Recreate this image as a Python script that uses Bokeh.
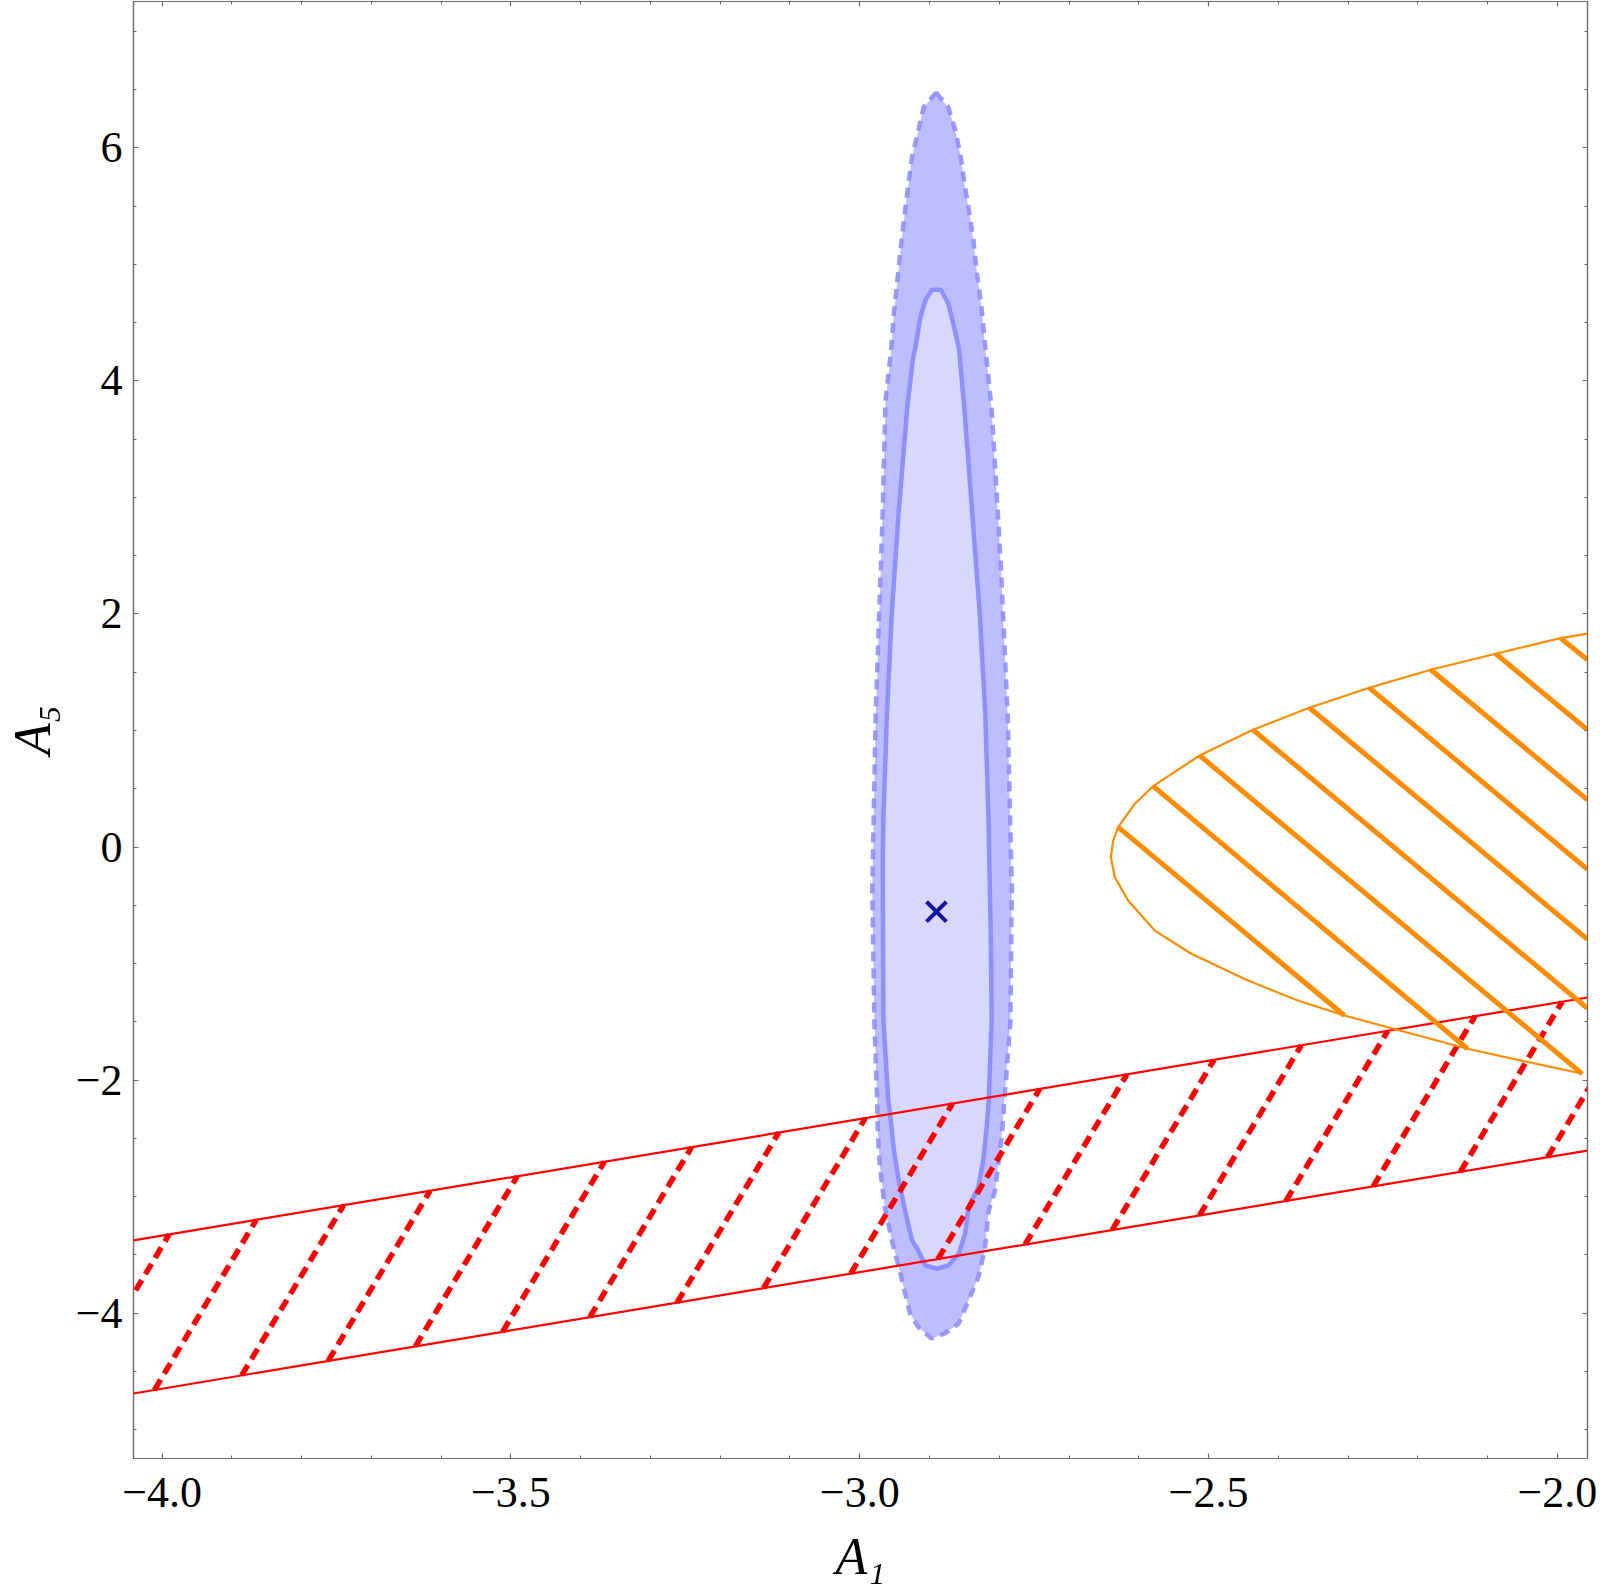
from bokeh.plotting import figure
from bokeh.models import Range1d, FixedTicker, LinearAxis
from bokeh.embed import file_html
from bokeh.resources import INLINE

# ---------------- axes / ticks ----------------
x_start, x_end = -4.0411, -1.9567
y_start, y_end = -5.247, 7.255
x_major_ticks = [-4.0, -3.5, -3.0, -2.5, -2.0]
x_tick_labels = ["−4.0", "−3.5", "−3.0", "−2.5", "−2.0"]
x_minor_ticks = [-4.0, -3.9, -3.8, -3.7, -3.6, -3.5, -3.4, -3.3, -3.2, -3.1, -3.0,
                 -2.9, -2.8, -2.7, -2.6, -2.5, -2.4, -2.3, -2.2, -2.1, -2.0]
y_major_ticks = [-4, -2, 0, 2, 4, 6]
y_tick_labels = ["−4", "−2", "0", "2", "4", "6"]
y_minor_ticks = [-5.0, -4.5, -4.0, -3.5, -3.0, -2.5, -2.0, -1.5, -1.0, -0.5, 0.0, 0.5,
                 1.0, 1.5, 2.0, 2.5, 3.0, 3.5, 4.0, 4.5, 5.0, 5.5, 6.0, 6.5, 7.0]
x_title = "A₁"
y_title = "A₅"

# ---------------- blue regions (fit contours) ----------------
outer_x = [-2.8904, -2.873, -2.863, -2.856, -2.849, -2.842, -2.837, -2.832, -2.826, -2.820,
           -2.811, -2.798, -2.788, -2.782, -2.784, -2.7926, -2.796, -2.806, -2.815, -2.821,
           -2.830, -2.844, -2.858, -2.878, -2.897, -2.916, -2.928, -2.937, -2.944, -2.954,
           -2.964, -2.971, -2.974, -2.975, -2.979, -2.982, -2.977, -2.967, -2.963, -2.955,
           -2.951, -2.945, -2.939, -2.932, -2.925, -2.916, -2.9084]
outer_y = [6.472, 6.348, 6.148, 5.949, 5.662, 5.405, 5.205, 4.919, 4.661, 4.289,
           3.763, 2.450, 1.137, -0.356, -1.489, -2.175, -2.458, -2.947, -3.119, -3.462,
           -3.691, -3.891, -4.088, -4.174, -4.217, -4.120, -4.003, -3.777, -3.605, -3.376,
           -3.090, -2.747, -2.458, -2.175, -1.489, -0.356, 1.137, 2.888, 3.832, 4.261,
           4.576, 4.919, 5.262, 5.605, 5.919, 6.148, 6.348]

inner_x = [-2.8965, -2.8835, -2.873, -2.866, -2.858, -2.850, -2.839, -2.828, -2.820, -2.8155,
           -2.812, -2.811, -2.815, -2.818, -2.823, -2.830, -2.844, -2.849, -2.858, -2.873,
           -2.889, -2.906, -2.916, -2.925, -2.935, -2.944, -2.951, -2.956, -2.959, -2.966,
           -2.967, -2.966, -2.961, -2.954, -2.944, -2.932, -2.9235, -2.920, -2.913, -2.906]
inner_y = [4.782, 4.782, 4.661, 4.490, 4.289, 3.763, 2.886, 2.011, 1.137, 0.260,
           -0.800, -1.489, -2.175, -2.404, -2.690, -2.919, -3.090, -3.319, -3.490, -3.591,
           -3.619, -3.591, -3.462, -3.376, -3.119, -2.862, -2.604, -2.318, -2.175, -1.489,
           -0.175, 0.260, 1.135, 2.011, 2.886, 3.763, 4.200, 4.289, 4.546, 4.690]

best_fit_x = [-2.890]
best_fit_y = [-0.555]

# ---------------- red band ----------------
red_band_x = [-4.0411, -1.9567]
red_upper_y = [-3.375, -1.291]
red_lower_y = [-4.689, -2.605]
red_hatch_x0 = [-4.136, -4.011, -3.886, -3.762, -3.637, -3.512, -3.387, -3.262, -3.138,
                -3.013, -2.888, -2.763, -2.638, -2.513, -2.389, -2.264, -2.139, -2.014]
red_hatch_y0 = [-4.784, -4.659, -4.534, -4.410, -4.285, -4.160, -4.035, -3.910, -3.786,
                -3.661, -3.536, -3.411, -3.286, -3.161, -3.037, -2.912, -2.787, -2.662]
red_hatch_x1 = [-3.990, -3.865, -3.740, -3.616, -3.491, -3.366, -3.241, -3.116, -2.992,
                -2.867, -2.742, -2.617, -2.492, -2.367, -2.243, -2.118, -1.993, -1.868]
red_hatch_y1 = [-3.324, -3.199, -3.074, -2.950, -2.825, -2.700, -2.575, -2.450, -2.326,
                -2.201, -2.076, -1.951, -1.826, -1.701, -1.577, -1.452, -1.327, -1.202]

# ---------------- orange region ----------------
orange_x = [-1.9567, -1.9953, -2.0883, -2.1813, -2.2695, -2.3554, -2.4363, -2.5127, -2.5794,
            -2.6057, -2.6295, -2.6366, -2.6401, -2.6343, -2.6152, -2.5771, -2.5246, -2.4435,
            -2.3720, -2.3053, -2.1288, -1.9642]
orange_y = [1.831, 1.792, 1.658, 1.521, 1.366, 1.195, 1.006, 0.785, 0.522,
            0.371, 0.170, 0.056, -0.087, -0.259, -0.459, -0.717, -0.916, -1.145,
            -1.317, -1.446, -1.731, -1.946]
orange_hatch_x0 = [-2.6295, -2.5794, -2.5127, -2.4363, -2.3554, -2.2695, -2.1813, -2.0883, -1.9953]
orange_hatch_y0 = [0.170, 0.522, 0.785, 1.006, 1.195, 1.366, 1.521, 1.658, 1.792]
orange_hatch_x1 = [-2.3053, -2.1288, -1.9642, -1.9567, -1.9567, -1.9567, -1.9567, -1.9567, -1.9567]
orange_hatch_y1 = [-1.446, -1.731, -1.946, -1.385, -0.792, -0.192, 0.404, 1.006, 1.606]

# ---------------- figure ----------------
p = figure(width=1600, height=1587, output_backend="svg", toolbar_location=None,
           x_range=Range1d(x_start, x_end), y_range=Range1d(y_start, y_end),
           min_border_left=130, min_border_right=13, min_border_top=1, min_border_bottom=129,
           background_fill_color="white", border_fill_color="white")
p.grid.visible = False
p.outline_line_color = "#6b6b6b"
p.outline_line_width = 1.2

AX = "#6b6b6b"
FONT = "Liberation Serif"


def style_axis(ax, major, minor, overrides, show_labels):
    ax.ticker = FixedTicker(ticks=major, minor_ticks=minor)
    ax.axis_line_color = AX
    ax.axis_line_width = 1.2
    ax.major_tick_line_color = AX
    ax.minor_tick_line_color = AX
    ax.major_tick_line_width = 1.2
    ax.minor_tick_line_width = 1.0
    ax.major_tick_in = 5
    ax.major_tick_out = 0
    ax.minor_tick_in = 3
    ax.minor_tick_out = 0
    if show_labels:
        ax.major_label_overrides = overrides
        ax.major_label_text_font = FONT
        ax.major_label_text_font_size = "44px"
        ax.major_label_text_color = "black"
    else:
        ax.major_label_text_font_size = "0px"
        ax.major_label_text_color = None
        ax.major_label_standoff = 0


x_over = {t: s for t, s in zip(x_major_ticks, x_tick_labels)}
y_over = {t: s for t, s in zip(y_major_ticks, y_tick_labels)}

xa = p.xaxis[0]
style_axis(xa, x_major_ticks, x_minor_ticks, x_over, True)
xa.major_label_standoff = 19
xa.axis_label = x_title
xa.axis_label_text_font = FONT
xa.axis_label_text_font_style = "italic"
xa.axis_label_text_font_size = "52px"
xa.axis_label_text_color = "black"
xa.axis_label_standoff = 18

ya = p.yaxis[0]
style_axis(ya, y_major_ticks, y_minor_ticks, y_over, True)
ya.major_label_standoff = 11
ya.axis_label = y_title
ya.axis_label_text_font = FONT
ya.axis_label_text_font_style = "italic"
ya.axis_label_text_font_size = "52px"
ya.axis_label_text_color = "black"
ya.axis_label_standoff = 12

top_ax = LinearAxis()
style_axis(top_ax, x_major_ticks, x_minor_ticks, {}, False)
p.add_layout(top_ax, "above")
right_ax = LinearAxis()
style_axis(right_ax, y_major_ticks, y_minor_ticks, {}, False)
p.add_layout(right_ax, "right")

# blue contours
p.patch(outer_x, outer_y, fill_color="#BEBEFF", line_color="#8F8FFF", line_alpha=0.9,
        line_width=4.5, line_dash="10 7")
p.patch(inner_x, inner_y, fill_color="#D8D8FF", line_color="#8C8CFF", line_alpha=0.95,
        line_width=4.5)
p.scatter(best_fit_x, best_fit_y, marker="x", size=28, line_width=4, line_color="#1414A0")

# red band
p.line(red_band_x, red_upper_y, line_color="#FF0000", line_width=2.2)
p.line(red_band_x, red_lower_y, line_color="#FF0000", line_width=2.2)
p.segment(x0=red_hatch_x0, y0=red_hatch_y0, x1=red_hatch_x1, y1=red_hatch_y1,
          line_color="#FF0000", line_width=5.5, line_dash="12 7")

# orange region
p.line(orange_x, orange_y, line_color="#FF8C00", line_width=2.2)
p.segment(x0=orange_hatch_x0, y0=orange_hatch_y0, x1=orange_hatch_x1, y1=orange_hatch_y1,
          line_color="#FF8C00", line_width=5)

open("out.html", "w").write(file_html(p, INLINE))
